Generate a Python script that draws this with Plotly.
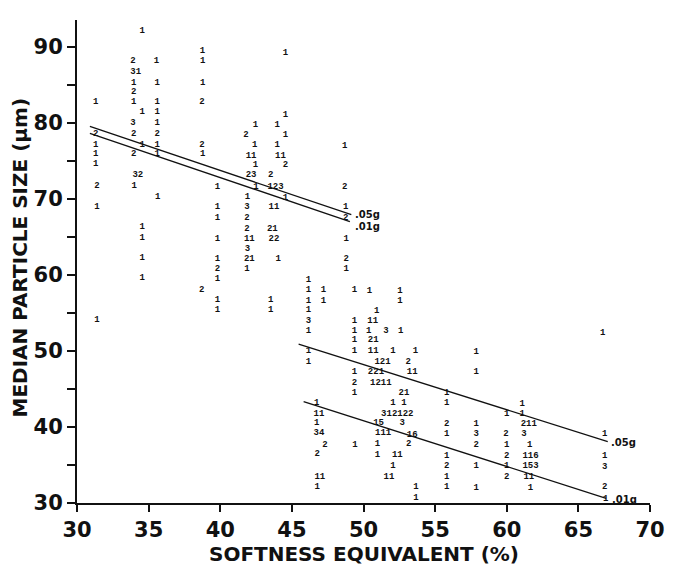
import plotly.graph_objects as go

# ---- data: (softness equivalent %, median particle size um, count label) ----
pt_x = [
    31.3, 31.3, 31.3, 31.3, 31.3, 31.4, 31.4, 31.4,
    33.9, 34.1, 33.95, 33.95, 33.95, 33.9, 33.95, 33.95, 34.25, 34.0,
    34.55, 34.55, 34.55, 34.55, 34.55, 34.55, 34.55,
    35.55, 35.6, 35.6, 35.6, 35.6, 35.6, 35.6, 35.6, 35.63,
    38.75, 38.77, 38.78, 38.73, 38.73, 38.78, 38.7,
    39.8, 39.8, 39.8, 39.8, 39.8, 39.8, 39.8, 39.8, 39.8,
    42.45, 41.8, 42.4, 42.15, 42.45, 42.15, 42.5, 41.9, 41.87, 41.87, 41.87, 42.03, 41.9, 42.03, 41.87,
    44.55, 44.55, 43.98, 44.55, 43.98, 44.2, 44.55, 43.52, 43.86, 44.55, 43.75, 43.64, 43.75, 44.05, 43.52, 43.52,
    48.68, 48.68, 48.75, 48.75, 48.8, 48.8, 48.8,
    46.16, 46.16, 46.16, 46.16, 46.16, 46.16, 46.16, 46.16,
    47.2, 47.2,
    49.37, 49.37, 49.37, 49.37, 49.37, 49.37, 49.37, 49.37, 49.4,
    50.41, 52.54, 52.54, 50.92, 50.64, 50.36, 51.56, 52.59, 50.68, 50.68, 52.06, 53.62, 51.33, 53.12,
    50.87, 53.4, 51.21, 52.82, 52.06, 52.82, 52.36, 51.05, 52.71, 51.37, 53.4, 50.98, 53.16, 50.98,
    52.36, 52.06, 51.78, 53.67, 53.67,
    46.74, 46.89, 46.74, 46.89, 47.31, 46.77, 46.95, 46.77,
    55.81, 55.81, 55.81, 55.81, 55.81, 55.81, 55.81, 55.81,
    57.87, 57.87, 57.87, 57.87, 57.87, 57.87, 57.87,
    61.08, 60.0, 61.08, 61.54, 59.94, 61.2, 60.0, 61.6, 60.0, 61.66, 60.0, 61.66, 60.0, 61.54, 61.66,
    66.7, 66.83, 66.83, 66.83, 66.83, 66.9,
]
pt_y = [
    82.7, 78.6, 77.1, 75.9, 74.6, 71.7, 69.0, 54.1,
    88.1, 86.7, 85.3, 84.1, 82.7, 80.0, 78.55, 75.9, 73.1, 71.75,
    92.1, 81.5, 77.1, 66.3, 64.9, 62.2, 59.6,
    88.1, 85.3, 82.7, 81.5, 80.0, 78.55, 77.1, 75.9, 70.3,
    89.4, 88.1, 85.3, 82.7, 77.1, 75.9, 58.1,
    71.6, 68.9, 67.5, 64.8, 62.1, 60.8, 59.45, 56.75, 55.4,
    79.7, 78.4, 77.1, 75.7, 74.5, 73.1, 71.6, 70.3, 68.9, 67.5, 66.1, 64.7, 63.4, 62.1, 60.75,
    89.2, 81.05, 79.7, 78.4, 77.1, 75.7, 74.5, 73.1, 71.6, 70.1, 68.9, 66.1, 64.7, 62.1, 56.7, 55.4,
    77.0, 71.6, 68.9, 67.5, 64.7, 62.1, 60.75,
    59.4, 58.0, 56.65, 55.4, 54.0, 52.7, 50.0, 48.6,
    58.0, 56.65,
    58.0, 54.0, 52.7, 51.4, 50.0, 47.2, 45.8, 44.5, 37.7,
    57.9, 57.9, 56.6, 55.3, 54.0, 52.7, 52.7, 52.7, 51.4, 50.0, 50.0, 50.0, 48.6, 48.6,
    47.2, 47.2, 45.8, 44.5, 43.2, 43.2, 41.8, 40.5, 40.5, 39.2, 39.0, 37.75, 37.75, 36.35,
    36.35, 34.9, 33.45, 32.1, 30.75,
    43.2, 41.8, 40.5, 39.2, 37.7, 36.45, 33.45, 32.1,
    44.55, 43.15, 40.45, 39.1, 36.25, 34.9, 33.45, 32.1,
    49.85, 47.2, 40.4, 39.05, 37.6, 34.9, 32.05,
    43.1, 41.7, 41.7, 40.4, 39.05, 39.05, 37.6, 37.6, 36.2, 36.2, 34.9, 34.9, 33.45, 33.45, 32.05,
    52.4, 39.1, 36.2, 34.8, 32.1, 30.6,
]
pt_label = [
    "1", "2", "1", "1", "1", "2", "1", "1",
    "2", "31", "1", "2", "1", "3", "2", "2", "32", "1",
    "1", "1", "1", "1", "1", "1", "1",
    "1", "1", "1", "1", "1", "2", "1", "1", "1",
    "1", "1", "1", "2", "2", "1", "2",
    "1", "1", "1", "1", "1", "2", "1", "1", "1",
    "1", "2", "1", "11", "1", "23", "1", "1", "3", "2", "2", "11", "3", "21", "1",
    "1", "1", "1", "1", "1", "11", "2", "2", "123", "1", "11", "21", "22", "1", "1", "1",
    "1", "2", "1", "2", "1", "2", "1",
    "1", "1", "1", "1", "3", "1", "1", "1",
    "1", "1",
    "1", "1", "1", "1", "1", "1", "2", "1", "1",
    "1", "1", "1", "1", "11", "1", "3", "1", "21", "11", "1", "1", "121", "2",
    "221", "11", "1211", "21", "1", "1", "312122", "15", "3", "111", "16", "1", "2", "1",
    "11", "1", "11", "1", "1",
    "1", "11", "1", "34", "2", "2", "11", "1",
    "1", "1", "2", "1", "1", "2", "1", "1",
    "1", "1", "1", "3", "2", "1", "1",
    "1", "1", "1", "211", "2", "3", "1", "1", "2", "116", "1", "153", "2", "11", "1",
    "1", "1", "1", "3", "2", "1",
]

# regression lines (two for each group: .05 g and .01 g)
line_names = [".05g", ".01g", ".05g", ".01g"]
line_x = [[30.9, 49.15], [30.9, 49.05], [45.47, 67.05], [45.82, 66.94]]
line_y = [[79.5, 67.9], [78.6, 67.0], [50.9, 38.07], [43.33, 30.62]]
label_x = [49.28, 49.28, 67.15, 67.2]
label_y = [67.9, 66.35, 38.0, 30.5]

x_ticks = [30, 35, 40, 45, 50, 55, 60, 65, 70]
y_ticks = [30, 40, 50, 60, 70, 80, 90]

fig = go.Figure()

for lx, ly in zip(line_x, line_y):
    fig.add_trace(go.Scatter(x=lx, y=ly, mode="lines",
                             line=dict(color="#111111", width=1.3),
                             hoverinfo="skip", showlegend=False))

fig.add_trace(go.Scatter(
    x=pt_x, y=pt_y, text=pt_label, mode="text",
    textposition="middle center",
    textfont=dict(family="Liberation Mono", size=9, color="#111111", weight="bold"),
    showlegend=False))

for name, lx, ly in zip(line_names, label_x, label_y):
    fig.add_annotation(x=lx, y=ly, text=name, showarrow=False,
                       xanchor="left", yanchor="middle",
                       font=dict(family="DejaVu Sans", size=10, color="#111111", weight="bold"))

axis_font = dict(family="DejaVu Sans", size=21, color="#111111", weight="bold")
title_font = dict(family="DejaVu Sans", size=20, color="#111111", weight="bold")

fig.update_layout(
    width=677, height=567,
    margin=dict(l=77, r=19, t=20, b=64),
    paper_bgcolor="white", plot_bgcolor="white",
    showlegend=False,
    xaxis=dict(range=[30, 70], tickvals=x_ticks, ticktext=[str(v) for v in x_ticks],
               showgrid=False, zeroline=False, showline=True, linecolor="#111111",
               linewidth=2, ticks="outside", ticklen=7, tickwidth=2, tickcolor="#111111",
               tickfont=axis_font),
    yaxis=dict(range=[30, 93.5], tickvals=y_ticks, ticktext=[str(v) for v in y_ticks],
               showgrid=False, zeroline=False, showline=True, linecolor="#111111",
               linewidth=2, ticks="outside", ticklen=8, tickwidth=2, tickcolor="#111111",
               tickfont=axis_font,
               minor=dict(tickvals=[35, 45, 55, 65, 75, 85], ticks="outside",
                          ticklen=8, tickwidth=2, tickcolor="#111111")),
)

fig.add_annotation(xref="paper", yref="paper", x=0.5, y=0, yshift=-51,
                   text="SOFTNESS EQUIVALENT (%)", showarrow=False,
                   xanchor="center", yanchor="middle", font=title_font)
fig.add_annotation(xref="paper", yref="paper", x=0, y=0.5, xshift=-58, yshift=4,
                   text="MEDIAN PARTICLE SIZE (\u03bcm)", showarrow=False, textangle=-90,
                   xanchor="center", yanchor="middle", font=title_font)

fig.write_html("out.html")
